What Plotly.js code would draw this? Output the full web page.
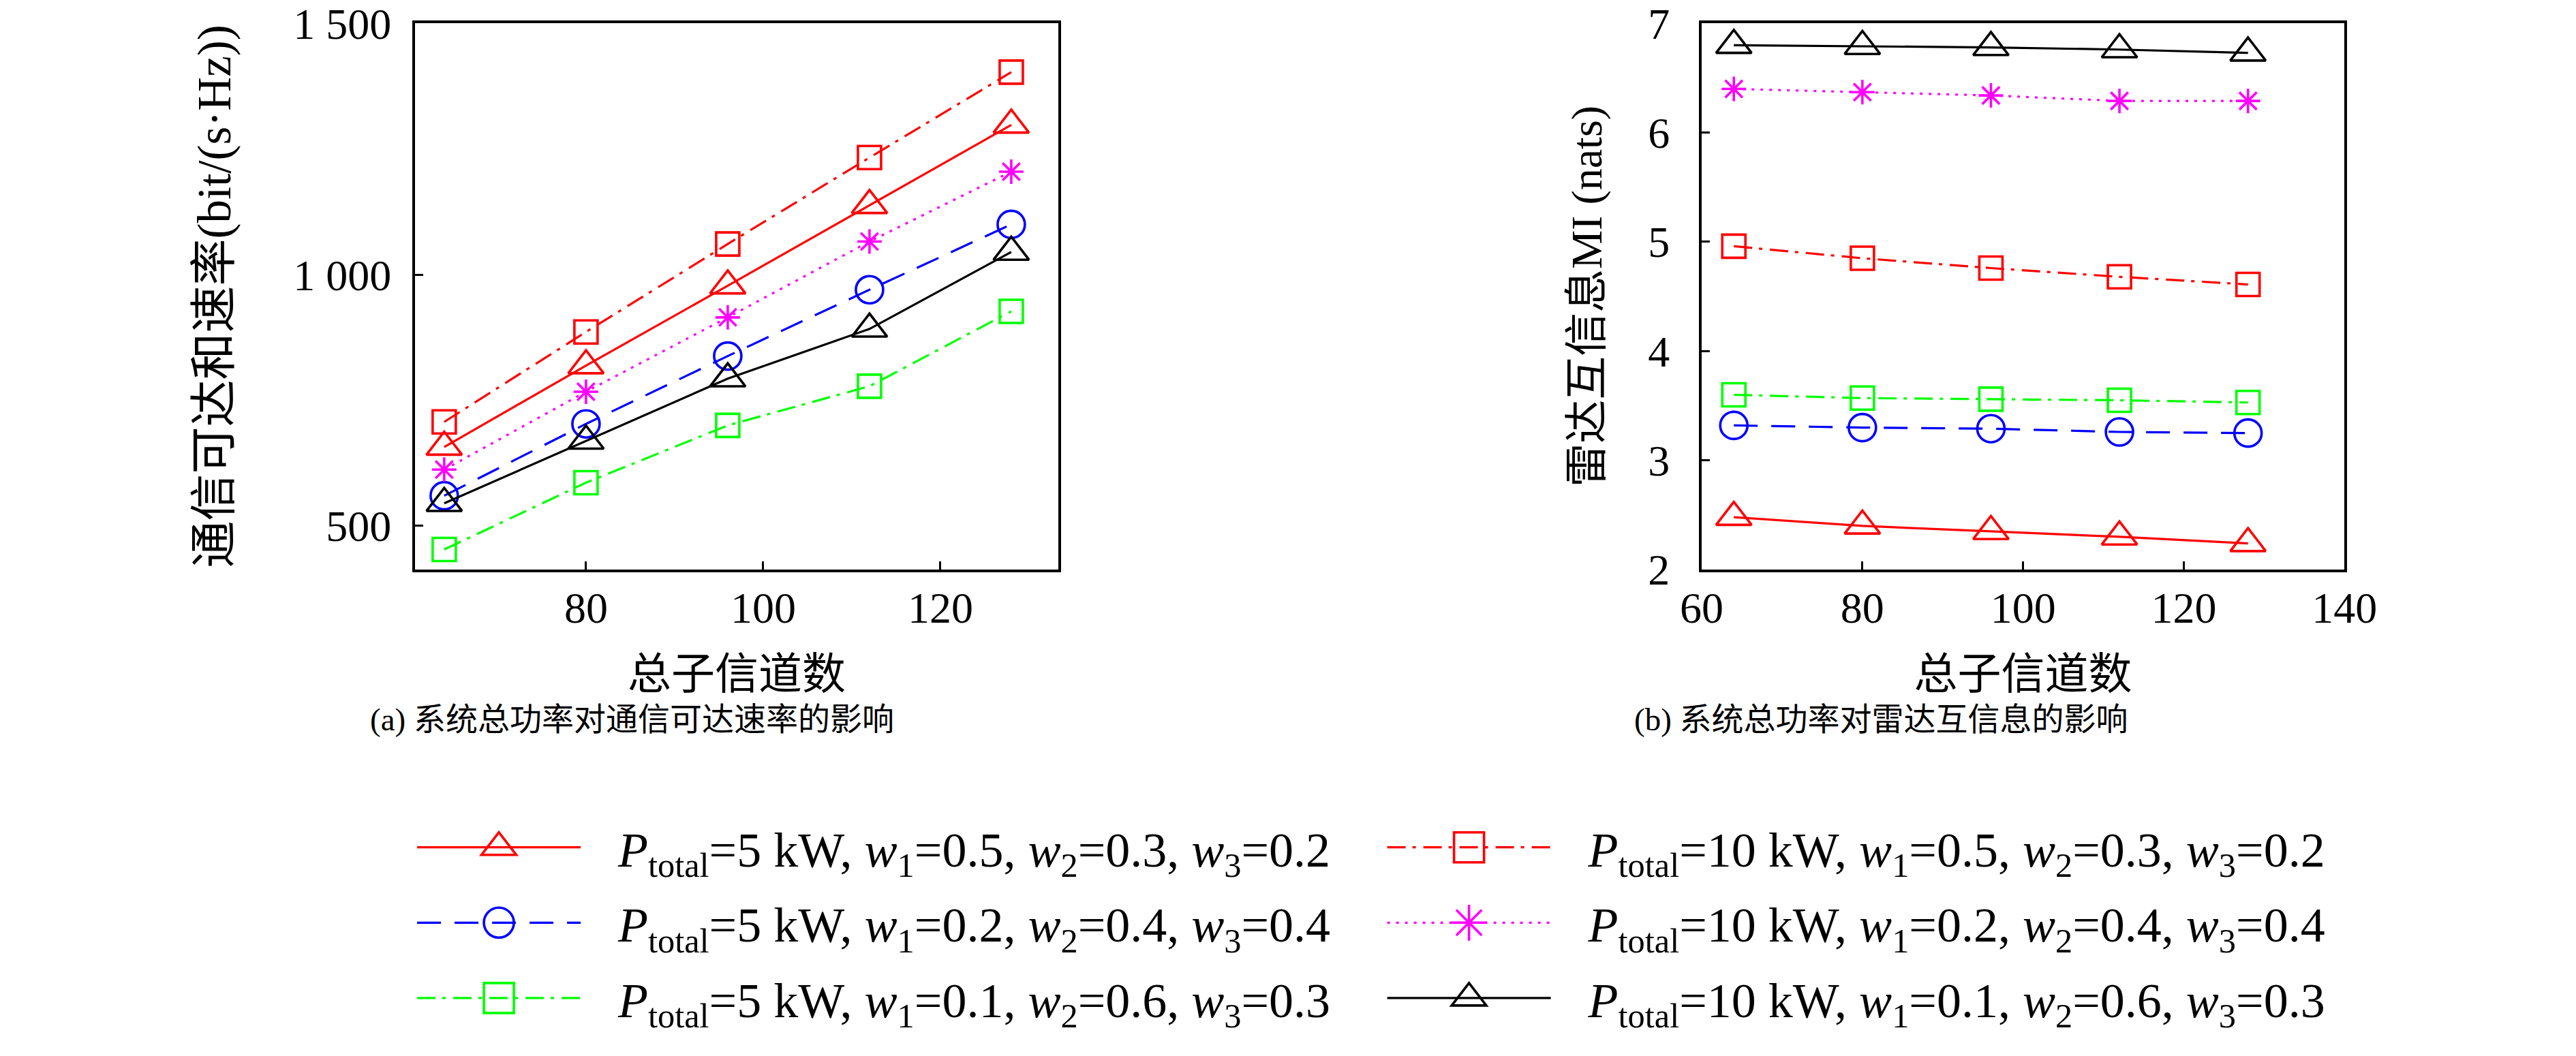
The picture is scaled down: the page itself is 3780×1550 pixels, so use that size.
<!DOCTYPE html>
<html>
<head>
<meta charset="utf-8">
<script src="https://cdn.plot.ly/plotly-3.0.1.min.js"></script>
<style>
body{margin:0;background:#fff}
#chart_myDiv g.scrollbox{clip-path:none !important}
</style>
</head>
<body>
<div id="chart_myDiv" style="width:3780px;height:1550px"></div>
<script>
// total subchannel count (x axis of both panels)
var subChannels = [64, 80, 96, 112, 128];

// (a) achievable sum rate, bit/(s·Hz)
var rateP5w05 = [657, 819, 978, 1138, 1298];
var rateP10w05 = [707, 886, 1061, 1233, 1403];
var rateP5w02 = [560, 703, 838, 970, 1100];
var rateP10w02 = [612, 767, 915, 1066, 1205];
var rateP5w01 = [453, 586, 700, 778, 927];
var rateP10w01 = [545, 669, 793, 892, 1045];

// (b) radar mutual information, nats
var miP5w05 = [2.48, 2.40, 2.35, 2.30, 2.24];
var miP10w05 = [4.96, 4.85, 4.76, 4.68, 4.61];
var miP5w02 = [3.32, 3.30, 3.29, 3.26, 3.25];
var miP10w02 = [6.40, 6.37, 6.34, 6.29, 6.29];
var miP5w01 = [3.60, 3.57, 3.56, 3.55, 3.53];
var miP10w01 = [6.80, 6.79, 6.78, 6.76, 6.73];

var seriesNames = [
  '<i>P</i><sub>total</sub>=5 kW, <i>w</i><sub>1</sub>=0.5, <i>w</i><sub>2</sub>=0.3, <i>w</i><sub>3</sub>=0.2',
  '<i>P</i><sub>total</sub>=10 kW, <i>w</i><sub>1</sub>=0.5, <i>w</i><sub>2</sub>=0.3, <i>w</i><sub>3</sub>=0.2',
  '<i>P</i><sub>total</sub>=5 kW, <i>w</i><sub>1</sub>=0.2, <i>w</i><sub>2</sub>=0.4, <i>w</i><sub>3</sub>=0.4',
  '<i>P</i><sub>total</sub>=10 kW, <i>w</i><sub>1</sub>=0.2, <i>w</i><sub>2</sub>=0.4, <i>w</i><sub>3</sub>=0.4',
  '<i>P</i><sub>total</sub>=5 kW, <i>w</i><sub>1</sub>=0.1, <i>w</i><sub>2</sub>=0.6, <i>w</i><sub>3</sub>=0.3',
  '<i>P</i><sub>total</sub>=10 kW, <i>w</i><sub>1</sub>=0.1, <i>w</i><sub>2</sub>=0.6, <i>w</i><sub>3</sub>=0.3'
];

var rateTickVals = [500, 1000, 1500];
var rateTickText = ['500', '1 000', '1 500'];
var miTickVals = [2, 3, 4, 5, 6, 7];

var xTitle = '总子信道数';
var rateTitle = '通信可达和速率(bit/(s·Hz))\u00a0\u00a0\u00a0';
var miTitle = '雷达互信息MI (nats)';
var captionA = '(a) 系统总功率对通信可达速率的影响';
var captionB = '(b) 系统总功率对雷达互信息的影响';

var rateSeries = [rateP5w05, rateP10w05, rateP5w02, rateP10w02, rateP5w01, rateP10w01];
var miSeries = [miP5w05, miP10w05, miP5w02, miP10w02, miP5w01, miP10w01];

// styles, same order as the series
var lineColors = ['#ff0000', '#ff0000', '#0000ff', '#ff00ff', '#00ff00', '#000000'];
var lineDashes = ['solid', '27px,10px,5px,11px', '35px,20px', '4px,9px', '27px,10px,5px,11px', 'solid'];
var markerSymbols = ['triangle-up-open', 'square-open', 'circle-open', 'asterisk-open', 'square-open', 'triangle-up-open'];
var markerSizes = [45, 34, 40, 30, 34, 45];
var legendSlots = ['legend', 'legend2', 'legend', 'legend2', 'legend', 'legend2'];

var fontFamily = 'Liberation Serif, "Noto Sans CJK SC", serif';

var data = [];
for (var i = 0; i < rateSeries.length; i++) {
  var common = {
    x: subChannels,
    mode: 'lines+markers',
    type: 'scatter',
    line: {color: lineColors[i], width: 3.2, dash: lineDashes[i]},
    marker: {symbol: markerSymbols[i], size: markerSizes[i], color: lineColors[i],
             line: {color: lineColors[i], width: 3.6}}
  };
  var t1 = Object.assign({}, common, {
    y: rateSeries[i], name: seriesNames[i], xaxis: 'x', yaxis: 'y',
    legend: legendSlots[i], legendgroup: 'g' + i, showlegend: true
  });
  var t2 = Object.assign({}, common, {
    y: miSeries[i], name: seriesNames[i], xaxis: 'x2', yaxis: 'y2',
    legendgroup: 'g' + i, showlegend: false
  });
  data.push(t1, t2);
}

function axisStyle(extra) {
  return Object.assign({
    showline: true, linecolor: '#000', linewidth: 4, mirror: true,
    ticks: 'inside', ticklen: 12, tickwidth: 3, tickcolor: '#000',
    showgrid: false, zeroline: false, ticklabeloverflow: 'allow',
    tickfont: {size: 64, color: '#000'}
  }, extra);
}

var legendCommon = {
  orientation: 'v', traceorder: 'grouped', tracegroupgap: 14,
  bgcolor: 'rgba(0,0,0,0)', borderwidth: 0, itemwidth: 240,
  font: {size: 72, color: '#000', family: fontFamily},
  yanchor: 'top', xanchor: 'left', y: 0.232
};

var layout = {
  width: 3780,
  height: 1550,
  margin: {l: 0, r: 0, t: 0, b: 0},
  paper_bgcolor: '#fff',
  plot_bgcolor: '#fff',
  font: {family: fontFamily, color: '#000', size: 64},
  xaxis: axisStyle({domain: [0.1611, 0.4108], range: [60.7, 133.3], dtick: 20, tick0: 0,
    ticklabelstandoff: -3, title: {text: xTitle, standoff: 40, font: {size: 64}}}),
  yaxis: axisStyle({domain: [0.4606, 0.9783], range: [413, 1501], tickvals: rateTickVals, ticktext: rateTickText,
    ticklabelstandoff: 18, title: {text: rateTitle, standoff: 70, font: {size: 69}}}),
  xaxis2: axisStyle({domain: [0.6606, 0.9101], range: [60, 140], dtick: 20, tick0: 0, anchor: 'y2',
    ticklabelstandoff: -3, title: {text: xTitle, standoff: 40, font: {size: 64}}}),
  yaxis2: axisStyle({domain: [0.4606, 0.9783], range: [2, 7.004], tickvals: miTickVals, anchor: 'x2',
    ticklabelstandoff: 30, title: {text: miTitle, standoff: 48, font: {size: 64}}}),
  legend: Object.assign({}, legendCommon, {x: 0.1606}),
  legend2: Object.assign({}, legendCommon, {x: 0.5372}),
  showlegend: true,
  annotations: [
    {text: captionA, xref: 'paper', yref: 'paper', x: 0.2455, y: 0.3187, showarrow: false,
     xanchor: 'center', yanchor: 'middle', font: {size: 47}},
    {text: captionB, xref: 'paper', yref: 'paper', x: 0.7302, y: 0.3187, showarrow: false,
     xanchor: 'center', yanchor: 'middle', font: {size: 47}}
  ]
};

function tweakLegend(gd) {
  // legend markers are capped at 16px by plotly, scale them up to plot size
  gd.querySelectorAll('.legendpoints path.scatterpts').forEach(function (p) {
    if (!p.dataset.baseTr) p.dataset.baseTr = p.getAttribute('transform') || '';
    p.setAttribute('transform', p.dataset.baseTr + ' scale(2.75)');
    p.style.vectorEffect = 'non-scaling-stroke';
  });
  // push legend text a bit further from the sample line (both legends)
  gd.querySelectorAll('text').forEach(function (t) {
    if (t.textContent.indexOf('kW') < 0) return;
    if (!t.dataset.baseX) t.dataset.baseX = t.getAttribute('x') || '0';
    t.setAttribute('x', parseFloat(t.dataset.baseX) + 50);
  });
}

Plotly.newPlot('chart_myDiv', data, layout, {staticPlot: true}).then(function (gd) {
  tweakLegend(gd);
  setTimeout(function () { tweakLegend(gd); }, 50);
  setTimeout(function () { tweakLegend(gd); }, 300);
});
</script>
</body>
</html>
